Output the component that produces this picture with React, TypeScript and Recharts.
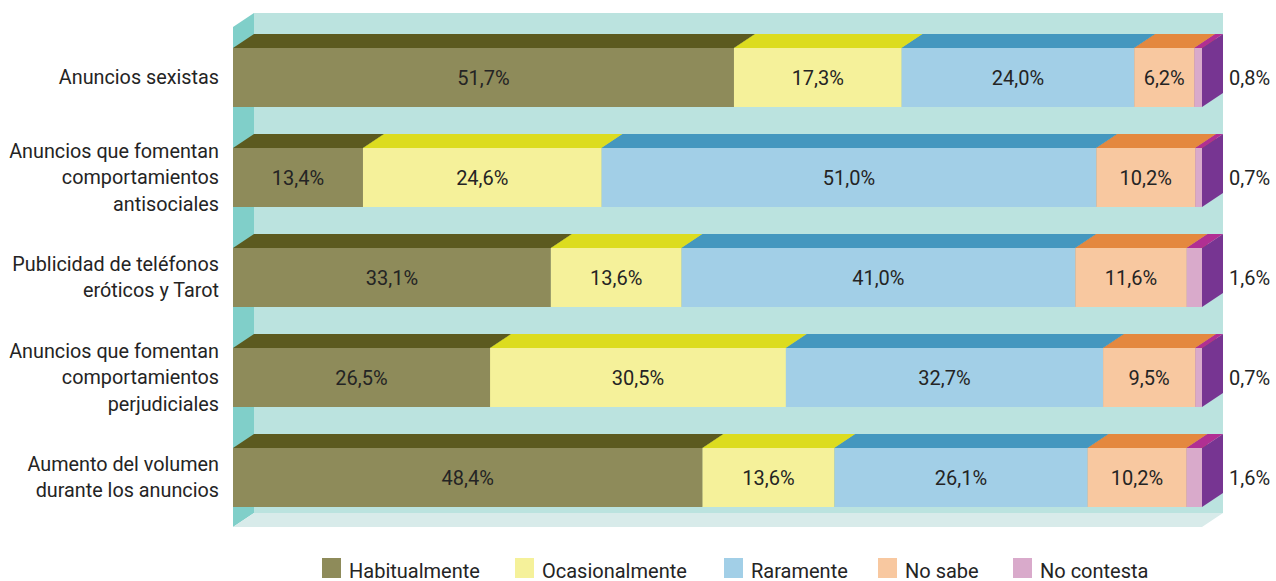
import { Bar, BarChart, LabelList, Legend, ReferenceArea, XAxis, YAxis } from "recharts";

// 每一行的文字按原图分行
const categories = [
  ["Anuncios sexistas"],
  ["Anuncios que fomentan", "comportamientos", "antisociales"],
  ["Publicidad de teléfonos", "eróticos y Tarot"],
  ["Anuncios que fomentan", "comportamientos", "perjudiciales"],
  ["Aumento del volumen", "durante los anuncios"],
];

const habitualmente = [51.7, 13.4, 33.1, 26.5, 48.4];
const ocasionalmente = [17.3, 24.6, 13.6, 30.5, 13.6];
const raramente = [24.0, 51.0, 41.0, 32.7, 26.1];
const noSabe = [6.2, 10.2, 11.6, 9.5, 10.2];
const noContesta = [0.8, 0.7, 1.6, 0.7, 1.6];

const seriesNames = ["Habitualmente", "Ocasionalmente", "Raramente", "No sabe", "No contesta"];
const seriesValues = [habitualmente, ocasionalmente, raramente, noSabe, noContesta];

const FONT = "Roboto, 'Open Sans', sans-serif";
const INK = "#242424";
// 立体效果的进深
const DX = 21;
const DY = 14;

const tones = [
  { front: "#8e8b5a", top: "#5c5a1f", side: "#4a4818" },
  { front: "#f5f19a", top: "#dcdc1f", side: "#b8b81a" },
  { front: "#a2cfe7", top: "#4497bf", side: "#2f7aa0" },
  { front: "#f8c8a0", top: "#e4883f", side: "#c06a28" },
  { front: "#d9aacb", top: "#b12f93", side: "#773592" },
];

// 图例每格的宽度，原图的字体比 Roboto 窄，固定宽度好让色块对齐
const legendSlots = [193, 209, 154, 135, 140];

const keys = ["hab", "oca", "rar", "ns", "nc"];

const data = categories.map((lines, i) => {
  const row: Record<string, unknown> = { name: lines.join(" "), lines };
  keys.forEach((k, s) => { row[k] = seriesValues[s][i]; });
  return row;
});

const linesByName = new Map(categories.map((lines) => [lines.join(" "), lines]));

const fmt = (v: number) => `${v.toFixed(1).replace(".", ",")}%`;

function Box3D(props: any) {
  const { x, y, width: w, height: h, tone } = props;
  if (!w || !h) return null;
  return (
    <g>
      <polygon points={`${x + w},${y} ${x + w + DX},${y - DY} ${x + w + DX},${y + h - DY} ${x + w},${y + h}`} fill={tone.side} />
      <polygon points={`${x},${y} ${x + w},${y} ${x + w + DX},${y - DY} ${x + DX},${y - DY}`} fill={tone.top} />
      <rect x={x} y={y} width={w} height={h} fill={tone.front} />
    </g>
  );
}

/** 背板、左壁和底板，直接用参考区域的绘图区矩形推出来 */
function Walls(props: any) {
  const { x, y, width: w, height: h } = props;
  const b = y + h;
  return (
    <g>
      <rect x={x + DX} y={y - DY} width={w} height={h} fill="#bbe3df" />
      <polygon points={`${x},${y} ${x + DX},${y - DY} ${x + DX},${b - DY} ${x},${b}`} fill="#80cfc9" />
      <polygon points={`${x},${b} ${x + w},${b} ${x + w + DX},${b - DY} ${x + DX},${b - DY}`} fill="#d8ebea" />
    </g>
  );
}

function CategoryTick(props: any) {
  const { x, y, payload } = props;
  const lines = linesByName.get(payload.value) ?? [String(payload.value)];
  const n = lines.length;
  return (
    <text x={x} y={y} textAnchor="end" fontFamily={FONT} fontSize={19.8} fill={INK}>
      {lines.map((line, i) => (
        <tspan key={i} x={x} y={y + 7 + (i - (n - 1) / 2) * 26.5}>{line}</tspan>
      ))}
    </text>
  );
}

function boxOf(p: any) {
  const vb = p.viewBox ?? {};
  return { x: p.x ?? vb.x, y: p.y ?? vb.y, w: p.width ?? vb.width, h: p.height ?? vb.height };
}

function centerLabel(values: number[]) {
  return (p: any) => {
    const { x, y, w, h } = boxOf(p);
    return (
      <text x={x + w / 2} y={y + h / 2 + 7.5} textAnchor="middle" fontFamily={FONT} fontSize={20} fill={INK}>
        {fmt(values[p.index])}
      </text>
    );
  };
}

function rightLabel(values: number[]) {
  return (p: any) => {
    const { x, y, w, h } = boxOf(p);
    return (
      <text x={x + w + 27} y={y + h / 2 + 7.5} textAnchor="start" fontFamily={FONT} fontSize={20} fill={INK}>
        {fmt(values[p.index])}
      </text>
    );
  };
}

function LegendRow() {
  return (
    <div style={{ height: 54, boxSizing: "border-box", paddingTop: 31, paddingLeft: 322, display: "flex", fontFamily: FONT, fontSize: 20, color: INK }}>
      {seriesNames.map((name, s) => (
        <div key={name} style={{ display: "flex", alignItems: "flex-start", width: legendSlots[s], flexShrink: 0 }}>
          <span style={{ width: 19, height: 20, background: tones[s].front, marginRight: 8, flexShrink: 0 }} />
          <span style={{ lineHeight: "22px", marginTop: 2, whiteSpace: "nowrap" }}>{name}</span>
        </div>
      ))}
    </div>
  );
}

export default function App() {
  return (
    <div style={{ position: "absolute", left: 0, top: 0, width: 1276, height: 581, background: "#fff" }}>
      <BarChart
        width={1276}
        height={581}
        data={data}
        layout="vertical"
        stackOffset="expand"
        barSize={59}
        margin={{ top: 27, right: 74, bottom: 0, left: 0 }}
      >
        <XAxis type="number" domain={[0, 1]} hide />
        <YAxis
          type="category"
          dataKey="name"
          width={233}
          axisLine={false}
          tickLine={false}
          tickSize={0}
          tickMargin={14}
          tick={<CategoryTick />}
          interval={0}
        />
        <ReferenceArea x1={0} x2={1} ifOverflow="visible" shape={(p: any) => <Walls {...p} />} />
        {keys.map((k, s) => (
          <Bar
            key={k}
            dataKey={k}
            name={seriesNames[s]}
            stackId="s"
            fill={tones[s].front}
            isAnimationActive={false}
            shape={(p: any) => <Box3D {...p} tone={tones[s]} />}
          >
            <LabelList dataKey={k} content={s === 4 ? rightLabel(seriesValues[s]) : centerLabel(seriesValues[s])} />
          </Bar>
        ))}
        <Legend verticalAlign="bottom" wrapperStyle={{ left: 0, width: 1276 }} content={() => <LegendRow />} />
      </BarChart>
    </div>
  );
}
